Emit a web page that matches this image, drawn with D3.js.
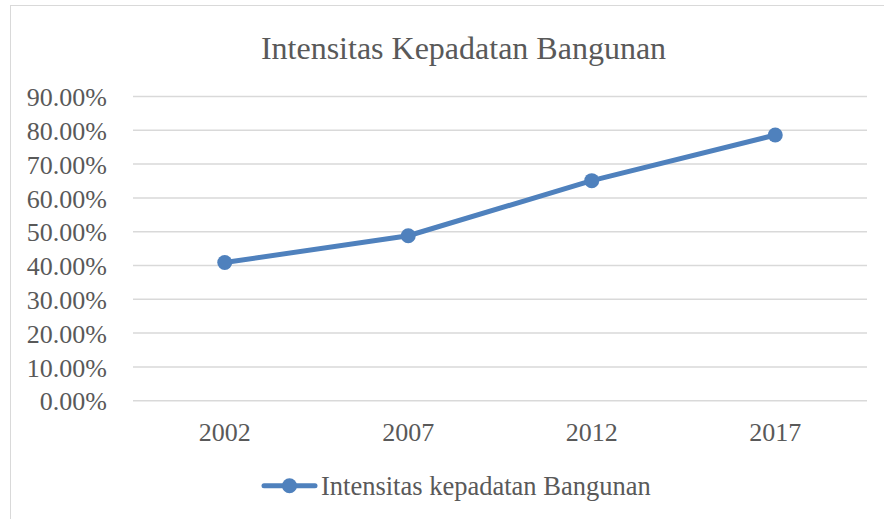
<!DOCTYPE html>
<html>
<head>
<meta charset="utf-8">
<script src="https://cdn.jsdelivr.net/npm/d3@7"></script>
<style>
  body { margin: 0; background: #fff; }
  text { font-family: "Liberation Serif", "Times New Roman", serif; fill: #595959; }
</style>
</head>
<body>
<script>
// data
var years = ["2002", "2007", "2012", "2017"];
var values = [0.409, 0.488, 0.651, 0.786];
var yTicks = [0, 0.1, 0.2, 0.3, 0.4, 0.5, 0.6, 0.7, 0.8, 0.9];
var seriesName = "Intensitas kepadatan Bangunan";
var chartTitle = "Intensitas Kepadatan Bangunan";

var W = 884, H = 519;
var color = "#4F81BD";

var svg = d3.select("body").append("svg")
    .attr("width", W)
    .attr("height", H);

// chart frame
svg.append("rect")
    .attr("x", 10.5).attr("y", 5.5)
    .attr("width", W).attr("height", H)
    .attr("fill", "#fff")
    .attr("stroke", "#D9D9D9");

var plot = { left: 133, right: 867, top: 96.5, bottom: 400.7 };

var x = d3.scaleBand()
    .domain(years)
    .range([plot.left, plot.right]);

var y = d3.scaleLinear()
    .domain([0, 0.9])
    .range([plot.bottom, plot.top]);

// title
svg.append("text")
    .attr("x", 463.5).attr("y", 59)
    .attr("text-anchor", "middle")
    .style("font-size", "32px")
    .text(chartTitle);

// gridlines
svg.append("g")
    .selectAll("line")
    .data(yTicks)
    .enter().append("line")
    .attr("x1", plot.left).attr("x2", plot.right)
    .attr("y1", function (d) { return y(d); })
    .attr("y2", function (d) { return y(d); })
    .attr("stroke", "#D9D9D9")
    .attr("stroke-width", 1.5);

// y axis labels
var yAxis = d3.axisLeft(y)
    .tickValues(yTicks)
    .tickSize(0)
    .tickPadding(0)
    .tickFormat(function (d) { return (d * 100).toFixed(2) + "%"; });

svg.append("g")
    .attr("transform", "translate(107,0)")
    .call(yAxis)
    .call(function (g) {
        g.select(".domain").remove();
        g.selectAll("text")
            .attr("fill", null)
            .style("font-size", "26px")
            .attr("dy", "0.35em");
    })
    .attr("font-family", null);

// x axis labels
var xAxis = d3.axisBottom(x).tickSize(0).tickPadding(0);

svg.append("g")
    .attr("transform", "translate(0," + plot.bottom + ")")
    .call(xAxis)
    .call(function (g) {
        g.select(".domain").remove();
        g.selectAll("text")
            .attr("fill", null)
            .attr("y", 40)
            .attr("dy", null)
            .style("font-size", "26px");
    })
    .attr("font-family", null);

// the line
var line = d3.line()
    .x(function (d, i) { return x(years[i]) + x.bandwidth() / 2; })
    .y(function (d) { return y(d); });

svg.append("path")
    .datum(values)
    .attr("d", line)
    .attr("fill", "none")
    .attr("stroke", color)
    .attr("stroke-width", 5)
    .attr("stroke-linejoin", "round")
    .attr("stroke-linecap", "round");

svg.append("g")
    .selectAll("circle")
    .data(values)
    .enter().append("circle")
    .attr("cx", function (d, i) { return x(years[i]) + x.bandwidth() / 2; })
    .attr("cy", function (d) { return y(d); })
    .attr("r", 7.5)
    .attr("fill", color);

// legend
var legend = svg.append("g").attr("transform", "translate(0,485.7)");
legend.append("line")
    .attr("x1", 264).attr("x2", 315)
    .attr("stroke", color)
    .attr("stroke-width", 5)
    .attr("stroke-linecap", "round");
legend.append("circle")
    .attr("cx", 289.5).attr("r", 7.5)
    .attr("fill", color);
legend.append("text")
    .attr("x", 321).attr("y", 9)
    .style("font-size", "26.5px")
    .text(seriesName);
</script>
</body>
</html>
